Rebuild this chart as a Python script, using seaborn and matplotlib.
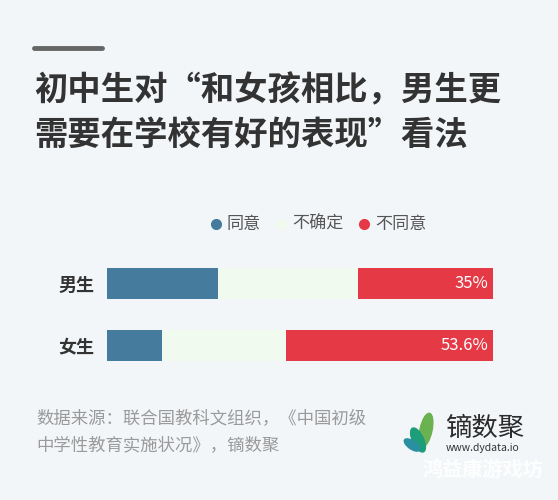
import matplotlib
matplotlib.use("Agg")
import matplotlib.pyplot as plt
from matplotlib.lines import Line2D
from matplotlib.patches import Ellipse
import pandas as pd
import seaborn as sns

# data
groups = ["男生", "女生"]
series = ["同意", "不确定", "不同意"]
agree = [28.8, 14.3]
unsure = [36.2, 32.1]
disagree = [35.0, 53.6]
colors = {"同意": "#457b9d", "不确定": "#f1faee", "不同意": "#e63946"}

title = "初中生对“和女孩相比，男生更\n需要在学校有好的表现”看法"
source = "数据来源：联合国教科文组织，《中国初级\n中学性教育实施状况》，镝数聚"

sns.set_style("white")
plt.rcParams['font.family'] = ['Noto Sans CJK SC', 'DejaVu Sans']

bg = "#f3f6f9"
W, H = 558, 500
fig = plt.figure(figsize=(W / 100, H / 100), dpi=100, facecolor=bg)

def fx(x):
    return x / W

def fy(y):
    return 1 - y / H

# cumulative widths so the overlaid bars look stacked
df = pd.DataFrame({"group": groups, "同意": agree, "不确定": unsure, "不同意": disagree})
df["c1"] = df["同意"]
df["c2"] = df["同意"] + df["不确定"]
df["c3"] = df["c2"] + df["不同意"]

ax = fig.add_axes([fx(107), fy(376), fx(493) - fx(107), 124 / H])
ax.set_facecolor(bg)
for col, name in [("c3", "不同意"), ("c2", "不确定"), ("c1", "同意")]:
    sns.barplot(data=df, x=col, y="group", color=colors[name], width=0.5,
                saturation=1, ax=ax, edgecolor="none")
ax.set_xlim(0, df["c3"].max())
ax.set_ylim(1.5, -0.5)
ax.set_xlabel("")
ax.set_ylabel("")
ax.set_xticks([])
ax.tick_params(axis="y", length=0, pad=9, labelsize=13, labelcolor="#333333")
for lab in ax.get_yticklabels():
    lab.set_fontweight("bold")
sns.despine(ax=ax, left=True, bottom=True)

for i, v in enumerate(disagree):
    ax.text(df["c3"].max() - 1.3, i, f"{v:g}%", color="white", ha="right",
            va="center", fontsize=12, fontweight="medium")

# legend
leg_items = [(216, 227, "同意"), (281, 292, "不确定"), (364, 375, "不同意")]
for mx, tx, name in leg_items:
    fig.add_artist(Line2D([fx(mx)], [fy(224)], marker="o", markersize=7,
                          color=colors[name], linestyle="none",
                          transform=fig.transFigure))
    fig.text(fx(tx), fy(224), name, fontsize=12.3, color="#555555",
             ha="left", va="center")

# title
fig.add_artist(Line2D([fx(34), fx(102)], [fy(48), fy(48)], color="#666666",
                      linewidth=3.5, transform=fig.transFigure))
fig.text(fx(34), fy(113), title, fontsize=24, fontweight="bold", color="#333333",
         ha="left", va="center", linespacing=1.45)

# source
fig.text(fx(36), fy(432), source, fontsize=12.5, color="#9a9a9a",
         ha="left", va="center", linespacing=1.55)

# logo
lax = fig.add_axes([fx(400), fy(462), fx(442) - fx(400), 54 / H])
lax.set_xlim(0, 42)
lax.set_ylim(0, 54)
lax.axis("off")
lax.add_patch(Ellipse((26, 32), 12, 34, angle=-12, color="#6ab150"))
lax.add_patch(Ellipse((18, 22), 11, 26, angle=25, color="#1d9d7a"))
lax.add_patch(Ellipse((12, 17), 8, 18, angle=55, color="#2a8fa0"))
fig.text(fx(445), fy(428), "镝数聚", fontsize=19, color="#2b2b2b",
         fontweight="medium", ha="left", va="center")
fig.text(fx(446), fy(448), "www.dydata.io", fontsize=7.5, color="#333333",
         ha="left", va="center")
fig.text(fx(423), fy(469), "鸿益康游戏坊", fontsize=14.5, color="white",
         fontweight="bold", ha="left", va="center", alpha=0.9)

fig.savefig("out.png", dpi=100, facecolor=bg)
